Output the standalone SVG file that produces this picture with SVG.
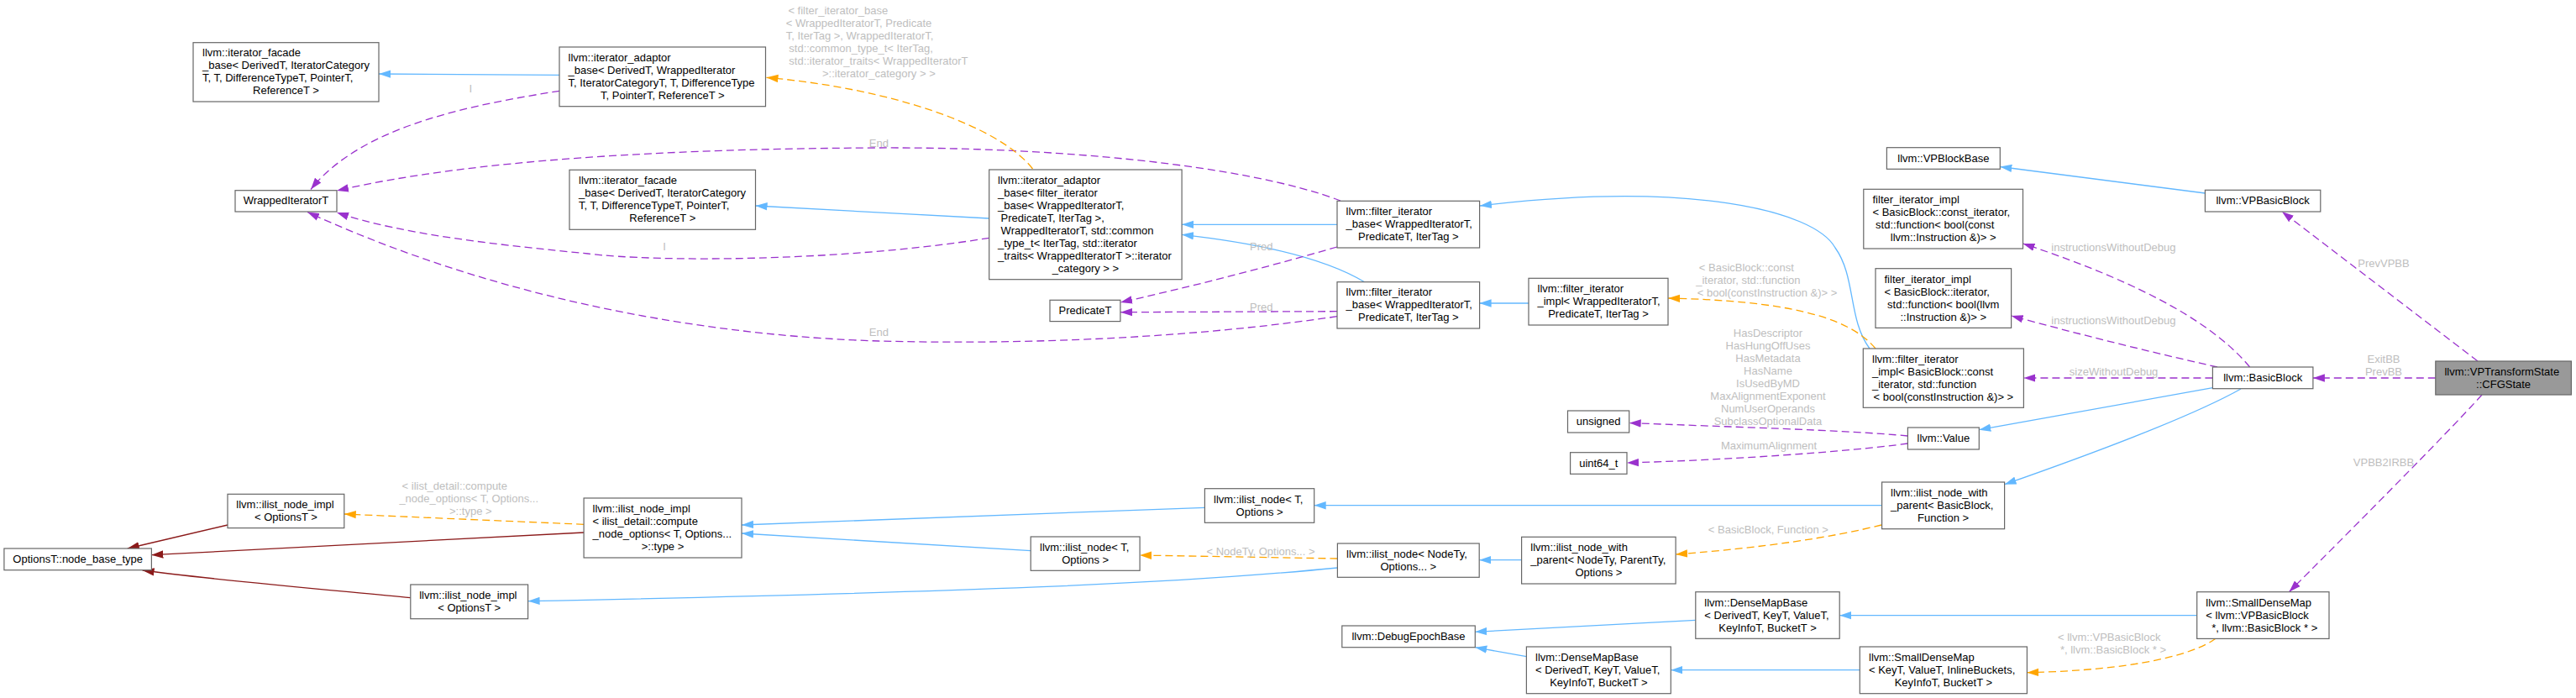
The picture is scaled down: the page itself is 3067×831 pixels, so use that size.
<svg xmlns="http://www.w3.org/2000/svg" width="3067" height="831" viewBox="0 0 3067 831">
<style>
text{font-family:"Liberation Sans",Arial,Helvetica,sans-serif;font-size:13px;fill:#000}
.c{text-anchor:middle}
.lb{fill:#bebebe}
.n rect{fill:#fff;stroke:#666;stroke-width:1.2}
.root rect{fill:#999;stroke:#666;stroke-width:1.2}
.e{fill:none;stroke-width:1.3}
.bl{stroke:#63b8ff;marker-end:url(#mb)}
.pu{stroke:#9a32cd;stroke-dasharray:9,5;marker-end:url(#mp)}
.or{stroke:#ffa500;stroke-dasharray:9,5;marker-end:url(#mo)}
.rd{stroke:#8b1a1a;marker-end:url(#mr)}
</style>
<defs>
<marker id="mb" viewBox="0 0 14 10" refX="14" refY="5" markerWidth="14" markerHeight="10" markerUnits="userSpaceOnUse" orient="auto"><path d="M0,0.3 L14,5 L0,9.7 z" fill="#63b8ff"/></marker>
<marker id="mp" viewBox="0 0 14 10" refX="14" refY="5" markerWidth="14" markerHeight="10" markerUnits="userSpaceOnUse" orient="auto"><path d="M0,0.3 L14,5 L0,9.7 z" fill="#9a32cd"/></marker>
<marker id="mo" viewBox="0 0 14 10" refX="14" refY="5" markerWidth="14" markerHeight="10" markerUnits="userSpaceOnUse" orient="auto"><path d="M0,0.3 L14,5 L0,9.7 z" fill="#ffa500"/></marker>
<marker id="mr" viewBox="0 0 14 10" refX="14" refY="5" markerWidth="14" markerHeight="10" markerUnits="userSpaceOnUse" orient="auto"><path d="M0,0.3 L14,5 L0,9.7 z" fill="#8b1a1a"/></marker>
</defs>
<rect x="0" y="0" width="3067" height="831" fill="#fff"/>

<g id="edges">
<path class="e bl" d="M666,89.3 L451,88"/>
<path class="e pu" d="M666,108.3 C560,125 430,150 370,225.5"/>
<path class="e pu" d="M1596,239 C1480,195 1250,175 1046,176 C800,177 560,190 401,227"/>
<path class="e pu" d="M1177.7,283.3 C1000,312 780,312 700,302 C600,292 480,280 401,253"/>
<path class="e pu" d="M1592,376.7 C1400,405 1200,410 1046,406 C850,400 600,360 366,252.5"/>
<path class="e or" d="M1229.5,201 C1190,150 1060,105 912.5,92.3"/>
<path class="e bl" d="M1177.7,260 L899.6,245"/>
<path class="e bl" d="M1592,267.3 L1407.1,267.3"/>
<path class="e bl" d="M1624.6,335.7 C1590,315 1530,293 1407.1,279.3"/>
<path class="e pu" d="M1592,294 Q1460,332 1334,360"/>
<path class="e pu" d="M1592,370.7 L1334,371.7"/>
<path class="e bl" d="M2226,415 C2200,380 2210,330 2185,295 C2160,250 2010,215 1762,245"/>
<path class="e bl" d="M1820,361 L1761.6,361"/>
<path class="e or" d="M2233,415 C2200,375 2120,358 1986.2,355"/>
<path class="e bl" d="M2625.4,230 L2381.3,198.5"/>
<path class="e pu" d="M2950,430 L2716.9,252"/>
<path class="e pu" d="M2899.8,450 L2753.9,450"/>
<path class="e pu" d="M2955,470 C2910,520 2790,640 2725.4,704.7"/>
<path class="e pu" d="M2678.6,437 C2640,390 2560,340 2408.5,290"/>
<path class="e pu" d="M2640,437 Q2520,410 2394.6,376"/>
<path class="e pu" d="M2634.4,450 L2409.4,450"/>
<path class="e bl" d="M2634.4,461.7 L2356.3,511.7"/>
<path class="e bl" d="M2668,463 C2620,490 2520,530 2386.6,576.7"/>
<path class="e pu" d="M2271.4,519 C2200,512 2050,508 1939.7,503.5"/>
<path class="e pu" d="M2271.4,528 C2200,538 2050,548 1937,551"/>
<path class="e bl" d="M2240.6,601.7 L1564.7,601.7"/>
<path class="e or" d="M2240,625 C2180,640 2100,652 1995.1,660"/>
<path class="e bl" d="M1434.4,604.3 L883,625"/>
<path class="e bl" d="M1227.2,655.7 L883,635"/>
<path class="e or" d="M1592.4,665 L1357.1,661"/>
<path class="e bl" d="M1592.4,676 C1400,695 1150,705 628.6,715.7"/>
<path class="e bl" d="M1811.6,666.7 L1761.2,666.7"/>
<path class="e rd" d="M271,625 L151.8,653"/>
<path class="e rd" d="M695.1,634 L180.4,660.7"/>
<path class="e rd" d="M488.8,711.7 C400,703 250,690 169.6,679"/>
<path class="e or" d="M695.1,624.3 L409.8,612"/>
<path class="e bl" d="M2018.8,738.3 L1756.3,752.3"/>
<path class="e bl" d="M1817.4,781.7 L1756.3,770.7"/>
<path class="e bl" d="M2615.7,732.7 L2190.2,732.7"/>
<path class="e bl" d="M2214.3,797.7 L1989.3,797.7"/>
<path class="e or" d="M2638,760.3 C2610,780 2540,798 2413.4,800.7"/>
<text class="lb c" x="560.3" y="110">I</text>
<text class="lb c" x="791.1" y="297.5">I</text>
<text class="lb c" x="1046.4" y="174.5">End</text>
<text class="lb c" x="1046.4" y="399.5">End</text>
<text class="lb" x="938.4" y="17.3">&lt; filter_iterator_base</text>
<text class="lb" x="935.7" y="32.3">&lt; WrappedIteratorT, Predicate</text>
<text class="lb" x="935.7" y="47.3">T, IterTag &gt;, WrappedIteratorT,</text>
<text class="lb" x="939.3" y="62.3">std::common_type_t&lt; IterTag,</text>
<text class="lb" x="939.3" y="77.3">std::iterator_traits&lt; WrappedIteratorT</text>
<text class="lb c" x="1046.4" y="92.3">&gt;::iterator_category &gt; &gt;</text>
<text class="lb c" x="1501.8" y="297.8">Pred</text>
<text class="lb c" x="1501.8" y="370">Pred</text>
<text class="lb" x="2022.8" y="323.3">&lt; BasicBlock::const</text>
<text class="lb" x="2019.2" y="338.3">_iterator, std::function</text>
<text class="lb c" x="2104" y="353.3">&lt; bool(constInstruction &amp;)&gt; &gt;</text>
<text class="lb c" x="2105" y="401.2">HasDescriptor</text>
<text class="lb c" x="2105" y="416.2">HasHungOffUses</text>
<text class="lb c" x="2105" y="431.2">HasMetadata</text>
<text class="lb c" x="2105" y="446.2">HasName</text>
<text class="lb c" x="2105" y="461.2">IsUsedByMD</text>
<text class="lb c" x="2105" y="476.2">MaxAlignmentExponent</text>
<text class="lb c" x="2105" y="491.2">NumUserOperands</text>
<text class="lb c" x="2105" y="506.2">SubclassOptionalData</text>
<text class="lb c" x="2106" y="535">MaximumAlignment</text>
<text class="lb c" x="2105.4" y="634.5">&lt; BasicBlock, Function &gt;</text>
<text class="lb c" x="1501" y="661">&lt; NodeTy, Options... &gt;</text>
<text class="lb" x="478.6" y="582.7">&lt; ilist_detail::compute</text>
<text class="lb" x="475.4" y="597.7">_node_options&lt; T, Options...</text>
<text class="lb c" x="560.3" y="612.7">&gt;::type &gt;</text>
<text class="lb c" x="2516.4" y="298.5">instructionsWithoutDebug</text>
<text class="lb c" x="2516.4" y="386">instructionsWithoutDebug</text>
<text class="lb c" x="2516.6" y="447">sizeWithoutDebug</text>
<text class="lb c" x="2838" y="318">PrevVPBB</text>
<text class="lb c" x="2838" y="432">ExitBB</text>
<text class="lb c" x="2838" y="447">PrevBB</text>
<text class="lb c" x="2838" y="554.5">VPBB2IRBB</text>
<text class="lb" x="2450" y="763">&lt; llvm::VPBasicBlock</text>
<text class="lb c" x="2516" y="778">*, llvm::BasicBlock * &gt;</text>
</g>

<g id="node-facade1" class="n"><rect x="230" y="50.7" width="221" height="70.3"/>
<text x="241" y="67.4">llvm::iterator_facade</text><text x="241" y="82.4">_base&lt; DerivedT, IteratorCategory</text><text x="241" y="97.4">T, T, DifferenceTypeT, PointerT,</text><text class="c" x="340.5" y="112.4">ReferenceT &gt;</text></g>

<g id="node-facade2" class="n"><rect x="678" y="202.3" width="221.5" height="71"/>
<text x="689" y="218.8">llvm::iterator_facade</text><text x="689" y="233.8">_base&lt; DerivedT, IteratorCategory</text><text x="689" y="248.8">T, T, DifferenceTypeT, PointerT,</text><text class="c" x="788.8" y="263.8">ReferenceT &gt;</text></g>

<g id="node-wrapped" class="n"><rect x="280" y="226.7" width="121" height="25.3"/>
<text class="c" x="340.5" y="243.4">WrappedIteratorT</text></g>

<g id="node-adaptor-top" class="n"><rect x="666" y="56" width="245.5" height="70.7"/>
<text x="676.5" y="72.9">llvm::iterator_adaptor</text><text x="676.5" y="87.9">_base&lt; DerivedT, WrappedIterator</text><text x="676.5" y="102.9">T, IteratorCategoryT, T, DifferenceType</text><text class="c" x="788.8" y="117.9">T, PointerT, ReferenceT &gt;</text></g>

<g id="node-adaptor-big" class="n"><rect x="1177.7" y="202" width="229.4" height="130.7"/>
<text x="1188" y="218.9">llvm::iterator_adaptor</text><text x="1188" y="233.9">_base&lt; filter_iterator</text><text x="1188" y="248.9">_base&lt; WrappedIteratorT,</text><text x="1191.6" y="263.9">PredicateT, IterTag &gt;,</text><text x="1191.6" y="278.9">WrappedIteratorT, std::common</text><text x="1188" y="293.9">_type_t&lt; IterTag, std::iterator</text><text x="1188" y="308.9">_traits&lt; WrappedIteratorT &gt;::iterator</text><text class="c" x="1292.4" y="323.9">_category &gt; &gt;</text></g>

<g id="node-predicate" class="n"><rect x="1250" y="357.3" width="83.9" height="25.3"/>
<text class="c" x="1292" y="374">PredicateT</text></g>

<g id="node-filter-base1" class="n"><rect x="1592" y="239.3" width="169.6" height="55.7"/>
<text x="1602.5" y="256.2">llvm::filter_iterator</text><text x="1602.5" y="271.2">_base&lt; WrappedIteratorT,</text><text class="c" x="1676.8" y="286.2">PredicateT, IterTag &gt;</text></g>

<g id="node-filter-base2" class="n"><rect x="1592" y="335.7" width="169.6" height="55.3"/>
<text x="1602.5" y="352.4">llvm::filter_iterator</text><text x="1602.5" y="367.4">_base&lt; WrappedIteratorT,</text><text class="c" x="1676.8" y="382.4">PredicateT, IterTag &gt;</text></g>

<g id="node-filter-impl-w" class="n"><rect x="1820" y="331.3" width="166" height="55.7"/>
<text x="1830.5" y="348.2">llvm::filter_iterator</text><text x="1830.5" y="363.2">_impl&lt; WrappedIteratorT,</text><text class="c" x="1903" y="378.2">PredicateT, IterTag &gt;</text></g>

<g id="node-vpblockbase" class="n"><rect x="2246.4" y="175.7" width="134.9" height="25.6"/>
<text class="c" x="2313.9" y="192.5">llvm::VPBlockBase</text></g>

<g id="node-fi-const-iter" class="n"><rect x="2218.8" y="225.3" width="189.7" height="70.7"/>
<text x="2229.5" y="242.2">filter_iterator_impl</text><text x="2229.5" y="257.2">&lt; BasicBlock::const_iterator,</text><text x="2233.1" y="272.2">std::function&lt; bool(const</text><text class="c" x="2313.7" y="287.2">llvm::Instruction &amp;)&gt; &gt;</text></g>

<g id="node-fi-iter" class="n"><rect x="2233" y="319.7" width="161.6" height="70.7"/>
<text x="2243.5" y="336.6">filter_iterator_impl</text><text x="2243.5" y="351.6">&lt; BasicBlock::iterator,</text><text x="2247.1" y="366.6">std::function&lt; bool(llvm</text><text class="c" x="2313.8" y="381.6">::Instruction &amp;)&gt; &gt;</text></g>

<g id="node-fi-bb-const" class="n"><rect x="2218.3" y="415" width="191.1" height="70.3"/>
<text x="2229" y="431.7">llvm::filter_iterator</text><text x="2229" y="446.7">_impl&lt; BasicBlock::const</text><text x="2229" y="461.7">_iterator, std::function</text><text class="c" x="2313.9" y="476.7">&lt; bool(constInstruction &amp;)&gt; &gt;</text></g>

<g id="node-vpbasicblock" class="n"><rect x="2625.4" y="226.3" width="137.4" height="25.7"/>
<text class="c" x="2694.1" y="243.2">llvm::VPBasicBlock</text></g>

<g id="node-basicblock" class="n"><rect x="2634.4" y="437" width="119.5" height="25.7"/>
<text class="c" x="2694.2" y="453.9">llvm::BasicBlock</text></g>

<g id="node-cfgstate" class="root"><rect x="2899.8" y="430" width="161.6" height="40"/>
<text x="2910.4" y="446.5">llvm::VPTransformState</text><text class="c" x="2980.6" y="461.5">::CFGState</text></g>

<g id="node-value" class="n"><rect x="2271.4" y="509" width="84.9" height="26"/>
<text class="c" x="2313.9" y="526">llvm::Value</text></g>

<g id="node-unsigned" class="n"><rect x="1866.5" y="489" width="73.2" height="26"/>
<text class="c" x="1903.1" y="506">unsigned</text></g>

<g id="node-uint64" class="n"><rect x="1869.6" y="538.7" width="67.4" height="25.6"/>
<text class="c" x="1903.3" y="555.5">uint64_t</text></g>

<g id="node-ilist-nwp-bb" class="n"><rect x="2240.6" y="574" width="146" height="55.7"/>
<text x="2251" y="590.9">llvm::ilist_node_with</text><text x="2251" y="605.9">_parent&lt; BasicBlock,</text><text class="c" x="2313.6" y="620.9">Function &gt;</text></g>

<g id="node-ilist-node-t-up" class="n"><rect x="1434.4" y="581.7" width="130.3" height="40.6"/>
<text x="1445" y="598.5">llvm::ilist_node&lt; T,</text><text class="c" x="1499.6" y="613.5">Options &gt;</text></g>

<g id="node-ilist-nwp-nodety" class="n"><rect x="1811.6" y="639.3" width="183.5" height="55.7"/>
<text x="1822.3" y="656.2">llvm::ilist_node_with</text><text x="1822.3" y="671.2">_parent&lt; NodeTy, ParentTy,</text><text class="c" x="1903.4" y="686.2">Options &gt;</text></g>

<g id="node-ilist-node-nodety" class="n"><rect x="1592.4" y="647" width="168.8" height="40.3"/>
<text x="1603" y="663.7">llvm::ilist_node&lt; NodeTy,</text><text class="c" x="1676.8" y="678.7">Options... &gt;</text></g>

<g id="node-ilist-node-t-low" class="n"><rect x="1227.2" y="639" width="129.9" height="40.3"/>
<text x="1238" y="655.7">llvm::ilist_node&lt; T,</text><text class="c" x="1292.2" y="670.7">Options &gt;</text></g>

<g id="node-ilist-impl-compute" class="n"><rect x="695.1" y="593" width="187.9" height="71"/>
<text x="705.5" y="610">llvm::ilist_node_impl</text><text x="705.5" y="625">&lt; ilist_detail::compute</text><text x="705.5" y="640">_node_options&lt; T, Options...</text><text class="c" x="789" y="655">&gt;::type &gt;</text></g>

<g id="node-ilist-impl-top" class="n"><rect x="271" y="588.3" width="138.8" height="40.3"/>
<text x="281.3" y="605">llvm::ilist_node_impl</text><text class="c" x="340.4" y="620">&lt; OptionsT &gt;</text></g>

<g id="node-ilist-impl-bottom" class="n"><rect x="488.8" y="696" width="139.8" height="40.7"/>
<text x="499.2" y="712.9">llvm::ilist_node_impl</text><text class="c" x="558.7" y="727.9">&lt; OptionsT &gt;</text></g>

<g id="node-node-base-type" class="n"><rect x="4.9" y="653" width="175.5" height="25.7"/>
<text class="c" x="92.7" y="669.9">OptionsT::node_base_type</text></g>

<g id="node-debugepochbase" class="n"><rect x="1597.8" y="745" width="158.5" height="25.7"/>
<text class="c" x="1677" y="761.9">llvm::DebugEpochBase</text></g>

<g id="node-densemapbase-top" class="n"><rect x="2018.8" y="704.7" width="171.4" height="55.6"/>
<text x="2029.3" y="721.5">llvm::DenseMapBase</text><text x="2029.3" y="736.5">&lt; DerivedT, KeyT, ValueT,</text><text class="c" x="2104.5" y="751.5">KeyInfoT, BucketT &gt;</text></g>

<g id="node-densemapbase-low" class="n"><rect x="1817.4" y="770" width="171.9" height="55.7"/>
<text x="1828" y="786.9">llvm::DenseMapBase</text><text x="1828" y="801.9">&lt; DerivedT, KeyT, ValueT,</text><text class="c" x="1903.4" y="816.9">KeyInfoT, BucketT &gt;</text></g>

<g id="node-smalldensemap-gen" class="n"><rect x="2214.3" y="770" width="199.1" height="55.7"/>
<text x="2225" y="786.9">llvm::SmallDenseMap</text><text x="2225" y="801.9">&lt; KeyT, ValueT, InlineBuckets,</text><text class="c" x="2313.9" y="816.9">KeyInfoT, BucketT &gt;</text></g>

<g id="node-smalldensemap-vp" class="n"><rect x="2615.7" y="704.7" width="157.3" height="55.7"/>
<text x="2626.3" y="721.6">llvm::SmallDenseMap</text><text x="2626.3" y="736.6">&lt; llvm::VPBasicBlock</text><text class="c" x="2696.2" y="751.6">*, llvm::BasicBlock * &gt;</text></g>
</svg>
